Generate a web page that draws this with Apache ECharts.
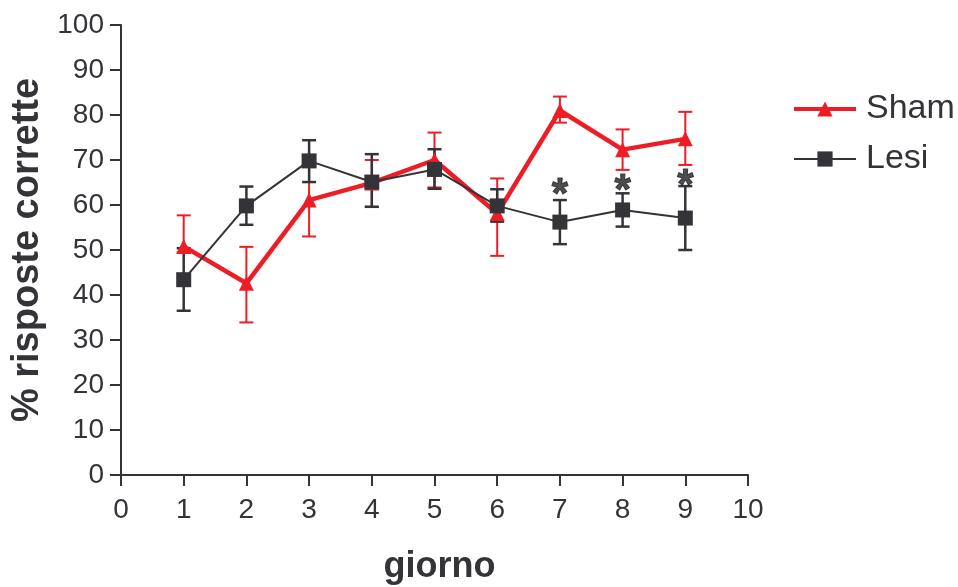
<!DOCTYPE html>
<html>
<head>
<meta charset="utf-8">
<script src="https://cdn.jsdelivr.net/npm/echarts@6/dist/echarts.min.js"></script>
<style>html,body{margin:0;padding:0;background:#fff}#c{width:958px;height:587px}</style>
</head>
<body>
<div id="c"></div>
<script>
var days = [1, 2, 3, 4, 5, 6, 7, 8, 9];
var shamMean = [50.8, 42.6, 61.1, 64.9, 70.0, 58.1, 81.0, 72.3, 74.7];
var shamLow  = [49.5, 33.9, 53.0, 59.6, 63.9, 48.7, 78.3, 67.8, 68.9];
var shamHigh = [57.7, 50.7, 69.1, 70.0, 76.1, 65.9, 84.1, 76.8, 80.7];
var lesiMean = [43.4, 59.8, 69.8, 65.1, 67.9, 59.8, 56.2, 58.9, 57.1];
var lesiLow  = [36.5, 55.6, 65.1, 59.6, 63.6, 56.3, 51.3, 55.2, 50.0];
var lesiHigh = [50.4, 64.1, 74.4, 71.3, 72.4, 63.5, 61.1, 62.6, 64.2];
var starDays = [7, 8, 9];
var starY = [64.2, 65.1, 66.1];
var xTicks = [0, 1, 2, 3, 4, 5, 6, 7, 8, 9, 10];
var yTicks = [0, 10, 20, 30, 40, 50, 60, 70, 80, 90, 100];

var RED = '#ee1c25';
var DARK = '#333338';
var FONT = '"Liberation Sans", Arial, Helvetica, sans-serif';

function pairs(xs, ys) { return xs.map(function (x, i) { return [x, ys[i]]; }); }
function errData(lo, hi) { return days.map(function (d, i) { return [d, lo[i], hi[i]]; }); }
function errRender(color, width) {
  return function (params, api) {
    var x = api.value(0);
    var lo = api.coord([x, api.value(1)]);
    var hi = api.coord([x, api.value(2)]);
    var cap = 7;
    var st = { stroke: color, lineWidth: width };
    return {
      type: 'group',
      children: [
        { type: 'line', shape: { x1: lo[0], y1: lo[1], x2: hi[0], y2: hi[1] }, style: st },
        { type: 'line', shape: { x1: lo[0] - cap, y1: lo[1], x2: lo[0] + cap, y2: lo[1] }, style: st },
        { type: 'line', shape: { x1: hi[0] - cap, y1: hi[1], x2: hi[0] + cap, y2: hi[1] }, style: st }
      ]
    };
  };
}

var chart = echarts.init(document.getElementById('c'));
chart.setOption({
  animation: false,
  backgroundColor: '#fff',
  grid: { left: 121, right: 210, top: 25, bottom: 112, containLabel: false, outerBoundsMode: 'none' },
  legend: {
    orient: 'vertical',
    left: 792,
    top: 92,
    padding: 0,
    itemWidth: 62,
    itemHeight: 19,
    itemGap: 16,
    data: [
      { name: 'Sham', lineStyle: { width: 4, color: RED } },
      { name: 'Lesi', lineStyle: { width: 2, color: DARK } }
    ],
    textStyle: { fontFamily: FONT, fontSize: 34, lineHeight: 34, color: DARK, padding: [0, 0, 0, 5] }
  },
  xAxis: {
    type: 'value', min: 0, max: 10, interval: 1,
    name: 'giorno', nameLocation: 'middle', nameGap: 74,
    nameTextStyle: { fontFamily: FONT, fontSize: 36, fontWeight: 'bold', color: DARK, padding: [0, 0, 0, 10] },
    axisLine: { show: true, lineStyle: { color: DARK, width: 2 } },
    axisTick: { show: true, length: 11, lineStyle: { color: DARK, width: 2 } },
    axisLabel: { fontFamily: FONT, fontSize: 28, color: DARK, margin: 21,
      formatter: function (v) { return xTicks.indexOf(v) >= 0 ? String(v) : ''; } },
    splitLine: { show: false }
  },
  yAxis: {
    type: 'value', min: 0, max: 100, interval: 10,
    name: '% risposte corrette', nameLocation: 'middle', nameGap: 72,
    nameTextStyle: { fontFamily: FONT, fontSize: 38, fontWeight: 'bold', color: DARK },
    axisLine: { show: true, lineStyle: { color: DARK, width: 2 } },
    axisTick: { show: true, length: 11, lineStyle: { color: DARK, width: 2 } },
    axisLabel: { fontFamily: FONT, fontSize: 28, color: DARK, margin: 17,
      formatter: function (v) { return yTicks.indexOf(v) >= 0 ? String(v) : ''; } },
    splitLine: { show: false }
  },
  series: [
    { type: 'custom', name: 'errSham', data: errData(shamLow, shamHigh),
      renderItem: errRender(RED, 2), z: 2, silent: true },
    { type: 'custom', name: 'errLesi', data: errData(lesiLow, lesiHigh),
      renderItem: errRender(DARK, 2.5), z: 3, silent: true },
    { type: 'line', name: 'Sham', data: pairs(days, shamMean),
      symbol: 'triangle', symbolSize: 15, showAllSymbol: true,
      lineStyle: { color: RED, width: 4.5 }, itemStyle: { color: RED }, z: 4 },
    { type: 'line', name: 'Lesi', data: pairs(days, lesiMean),
      symbol: 'rect', symbolSize: 15, showAllSymbol: true,
      lineStyle: { color: DARK, width: 2 }, itemStyle: { color: DARK }, z: 5 },
    { type: 'scatter', name: 'stars', data: pairs(starDays, starY),
      symbolSize: 1, itemStyle: { color: 'rgba(0,0,0,0)' }, silent: true,
      label: { show: true, position: 'inside', formatter: '*', fontFamily: FONT,
        fontSize: 42, fontWeight: 'bold', color: '#222226',
        textBorderColor: '#222226', textBorderWidth: 1, offset: [0, 9] }, z: 6 }
  ]
});
</script>
</body>
</html>
